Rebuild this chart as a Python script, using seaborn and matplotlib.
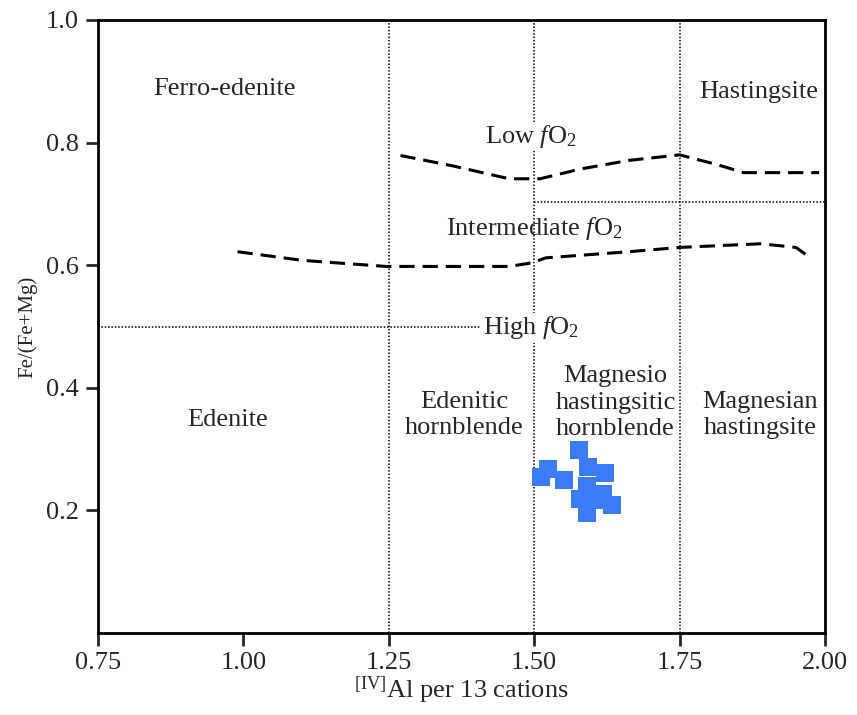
import matplotlib
matplotlib.use("Agg")
import matplotlib.pyplot as plt
import seaborn as sns
import pandas as pd

# ---- data ----
sample_x = [1.5775, 1.524, 1.511, 1.552, 1.593, 1.621, 1.591, 1.578, 1.618, 1.633, 1.591, 1.604, 1.592]
sample_y = [0.298, 0.267, 0.254, 0.249, 0.270, 0.261, 0.240, 0.219, 0.226, 0.209, 0.196, 0.217, 0.217]

upper_x = [1.27, 1.36, 1.457, 1.51, 1.58, 1.663, 1.75, 1.815, 1.86, 1.99]
upper_y = [0.779, 0.762, 0.741, 0.741, 0.757, 0.771, 0.780, 0.764, 0.751, 0.751]

lower_x = [0.99, 1.10, 1.245, 1.457, 1.497, 1.52, 1.663, 1.75, 1.89, 1.95, 1.975]
lower_y = [0.622, 0.608, 0.598, 0.598, 0.604, 0.612, 0.622, 0.629, 0.635, 0.629, 0.612]

x_ticks = [0.75, 1.00, 1.25, 1.50, 1.75, 2.00]
x_tick_labels = ["0.75", "1.00", "1.25", "1.50", "1.75", "2.00"]
y_ticks = [0.2, 0.4, 0.6, 0.8, 1.0]
y_tick_labels = ["0.2", "0.4", "0.6", "0.8", "1.0"]

region_labels = ["Ferro-edenite", "Hastingsite", "Low $f$O$_2$", "Intermediate $f$O$_2$",
                 "High $f$O$_2$", "Edenite", "Edenitic\nhornblende",
                 "Magnesio\nhastingsitic\nhornblende", "Magnesian\nhastingsite"]
label_x = [0.968, 1.886, 1.494, 1.50, 1.494, 0.973, 1.379, 1.64, 1.888]
label_y = [0.888, 0.882, 0.810, 0.660, 0.498, 0.348, 0.356, 0.376, 0.356]

# ---- style ----
sns.set_theme(style="ticks")
plt.rcParams["font.family"] = ["Liberation Serif", "DejaVu Serif"]
plt.rcParams["mathtext.fontset"] = "custom"
plt.rcParams["mathtext.rm"] = "Liberation Serif"
plt.rcParams["mathtext.it"] = "Liberation Serif:italic"

fig = plt.figure(figsize=(8.57, 7.15), dpi=100)
ax = fig.add_axes([98/857, 1-633/715, (825-98)/857, (633-20)/715])

# boundary dotted lines
dot_kw = dict(color="black", linestyle=(0, (1, 1.2)), linewidth=1.1, zorder=1)
for xv in [1.25, 1.5, 1.75]:
    ax.plot([xv, xv], [0, 1], **dot_kw)
ax.plot([0.75, 1.5], [0.5, 0.5], **dot_kw)
ax.plot([1.5, 2.0], [0.703, 0.703], **dot_kw)

# dashed fO2 curves
up = pd.DataFrame({"x": upper_x, "y": upper_y})
lo = pd.DataFrame({"x": lower_x, "y": lower_y})
for df in (up, lo):
    sns.lineplot(data=df, x="x", y="y", ax=ax, color="black", linewidth=2.2,
                 sort=False, estimator=None, dashes=False, zorder=2)
for line in ax.get_lines()[-2:]:
    line.set_dashes((5, 2.6))

# samples
pts = pd.DataFrame({"x": sample_x, "y": sample_y})
sns.scatterplot(data=pts, x="x", y="y", ax=ax, marker="s", s=150, color="#3a7cf5",
                linewidth=0, zorder=4)

# region labels
boxed = {"Low $f$O$_2$", "High $f$O$_2$"}
for t, xx, yy in zip(region_labels, label_x, label_y):
    kw = {}
    if t in boxed:
        kw["bbox"] = dict(facecolor="white", edgecolor="none", pad=1)
    ax.text(xx, yy, t, ha="center", va="center", fontsize=19, linespacing=1.25,
            zorder=3, **kw)

ax.set_xlim(0.75, 2.0)
ax.set_ylim(0, 1.0)
ax.set_xticks(x_ticks)
ax.set_xticklabels(x_tick_labels)
ax.set_yticks(y_ticks)
ax.set_yticklabels(y_tick_labels)
ax.tick_params(axis="both", labelsize=19, length=9, width=2, direction="out", pad=5)
for sp in ax.spines.values():
    sp.set_linewidth(2)
    sp.set_color("black")
ax.set_xlabel("$^{[\\mathrm{IV}]}$Al per 13 cations", fontsize=19, labelpad=0)
ax.set_ylabel("Fe/(Fe+Mg)", fontsize=15, labelpad=6)
ax.grid(False)

fig.savefig("out.png", dpi=100, facecolor="white")
